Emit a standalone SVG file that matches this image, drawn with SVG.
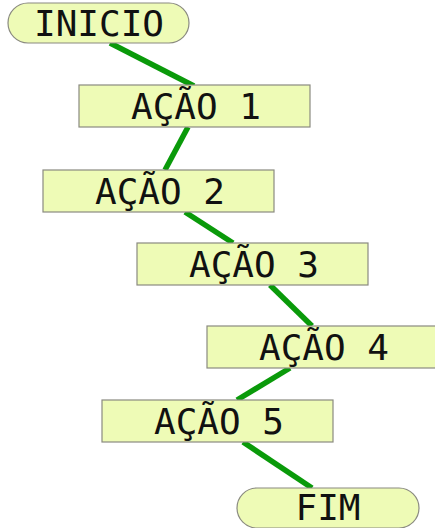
<svg xmlns="http://www.w3.org/2000/svg" width="435" height="528" viewBox="0 0 435 528">
  <style>
    .box { fill: #eefbb6; stroke: #8a8a80; stroke-width: 1.2; }
    .lbl { font-family: "DejaVu Sans Mono", monospace; font-size: 36px; fill: #111; text-anchor: middle; }
    .edge { stroke: #0a9a0a; stroke-width: 5.5; fill: none; }
  </style>
  <rect width="435" height="528" fill="#ffffff"/>
  <g id="connectors">
    <line class="edge" x1="110" y1="43" x2="194" y2="86"/>
    <line class="edge" x1="188" y1="127" x2="165" y2="170"/>
    <line class="edge" x1="185" y1="212" x2="233" y2="243"/>
    <line class="edge" x1="270" y1="285" x2="312" y2="326"/>
    <line class="edge" x1="290" y1="368" x2="237" y2="400"/>
    <line class="edge" x1="243" y1="442" x2="312" y2="488"/>
  </g>
  <g id="inicio">
    <rect class="box" x="8" y="3" width="181" height="40" rx="20"/>
    <text class="lbl" x="99" y="36">INICIO</text>
  </g>
  <g id="acao1">
    <rect class="box" x="79" y="85" width="231" height="42"/>
    <text class="lbl" x="196" y="119">AÇÃO 1</text>
  </g>
  <g id="acao2">
    <rect class="box" x="43" y="170" width="231" height="42"/>
    <text class="lbl" x="160" y="204">AÇÃO 2</text>
  </g>
  <g id="acao3">
    <rect class="box" x="137" y="243" width="231" height="42"/>
    <text class="lbl" x="254" y="277">AÇÃO 3</text>
  </g>
  <g id="acao4">
    <rect class="box" x="207" y="326" width="231" height="42"/>
    <text class="lbl" x="324" y="360">AÇÃO 4</text>
  </g>
  <g id="acao5">
    <rect class="box" x="102" y="400" width="231" height="42"/>
    <text class="lbl" x="219" y="434">AÇÃO 5</text>
  </g>
  <g id="fim">
    <rect class="box" x="237" y="488" width="182" height="40" rx="20"/>
    <text class="lbl" x="328" y="520">FIM</text>
  </g>
</svg>
